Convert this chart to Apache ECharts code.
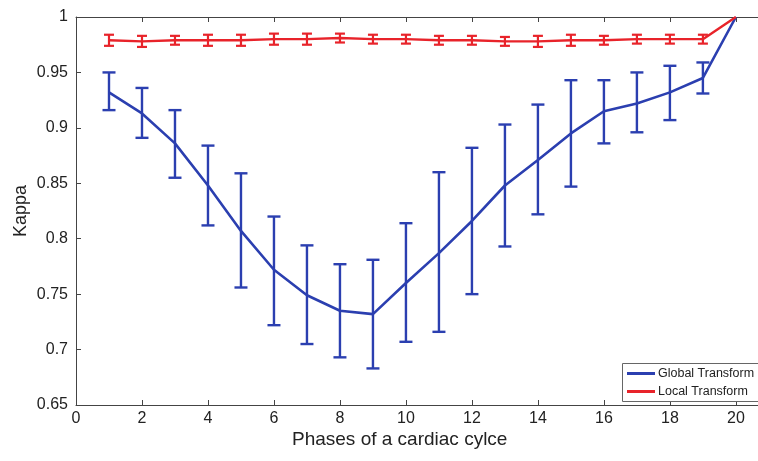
<!DOCTYPE html>
<html>
<head>
<meta charset="utf-8">
<script src="https://cdn.jsdelivr.net/npm/echarts@6/dist/echarts.min.js"></script>
<style>
  html, body { margin: 0; padding: 0; background: #fff; }
  #chart { width: 758px; height: 461px; }
</style>
</head>
<body>
<div id="chart"></div>
<script>
// phases 1..20
var phases = [1, 2, 3, 4, 5, 6, 7, 8, 9, 10, 11, 12, 13, 14, 15, 16, 17, 18, 19, 20];

// Global transform: mean kappa and error bar ends
var globalMean = [0.932, 0.913, 0.886, 0.848, 0.807, 0.772, 0.749, 0.735, 0.732, 0.760,
                  0.787, 0.816, 0.848, 0.871, 0.895, 0.915, 0.922, 0.932, 0.945, 1.0];
var globalLow  = [0.916, 0.891, 0.855, 0.812, 0.756, 0.722, 0.705, 0.693, 0.683, 0.707,
                  0.716, 0.750, 0.793, 0.822, 0.847, 0.886, 0.896, 0.907, 0.931, null];
var globalHigh = [0.950, 0.936, 0.916, 0.884, 0.859, 0.820, 0.794, 0.777, 0.781, 0.814,
                  0.860, 0.882, 0.903, 0.921, 0.943, 0.943, 0.950, 0.956, 0.959, null];

// Local transform
var localMean = [0.979, 0.978, 0.979, 0.979, 0.979, 0.980, 0.980, 0.981, 0.980, 0.980,
                 0.979, 0.979, 0.978, 0.978, 0.979, 0.979, 0.980, 0.980, 0.980, 1.0];
var localErr  = [0.005, 0.005, 0.004, 0.005, 0.005, 0.005, 0.005, 0.004, 0.004, 0.004,
                 0.004, 0.004, 0.004, 0.005, 0.005, 0.004, 0.004, 0.004, 0.004, null];

var yTicks = [0.65, 0.7, 0.75, 0.8, 0.85, 0.9, 0.95, 1];

var BLUE = '#2b3fb0';
var RED = '#e8232a';
var AXIS = '#444';
var FONT = 'Liberation Sans';

function pairs(xs, ys) {
    return xs.map(function (x, i) { return [x, ys[i]]; });
}

function barData(lows, highs) {
    var out = [];
    phases.forEach(function (x, i) {
        if (lows[i] != null) out.push([x, lows[i], highs[i]]);
    });
    return out;
}

function errorBars(color, capHalf, width) {
    return function (params, api) {
        var lo = api.coord([api.value(0), api.value(1)]);
        var hi = api.coord([api.value(0), api.value(2)]);
        var st = { stroke: color, lineWidth: width };
        return {
            type: 'group',
            children: [
                { type: 'line', shape: { x1: lo[0], y1: lo[1], x2: hi[0], y2: hi[1] }, style: st },
                { type: 'line', shape: { x1: lo[0] - capHalf, y1: lo[1], x2: lo[0] + capHalf, y2: lo[1] }, style: st },
                { type: 'line', shape: { x1: hi[0] - capHalf, y1: hi[1], x2: hi[0] + capHalf, y2: hi[1] }, style: st }
            ]
        };
    };
}

var localLow = localMean.map(function (v, i) { return localErr[i] == null ? null : v - localErr[i]; });
var localHigh = localMean.map(function (v, i) { return localErr[i] == null ? null : v + localErr[i]; });

var chart = echarts.init(document.getElementById('chart'));

// the plot box runs past the right edge of the picture (cropped figure)
var X_MAX = 20.67;

chart.setOption({
    animation: false,
    backgroundColor: '#fff',
    grid: { left: 76, top: 17, right: 0, height: 388 },
    legend: {
        left: 622, top: 364,
        orient: 'vertical',
        itemGap: 5,
        itemWidth: 28, itemHeight: 3,
        padding: [3, 0, 3, 5],
        borderWidth: 0,
        icon: 'rect',
        textStyle: { fontFamily: FONT, fontSize: 12.5, color: '#222', padding: [0, 0, 0, -2] },
        data: ['Global Transform', 'Local Transform'],
        z: 10
    },
    xAxis: [{
        type: 'value', min: 0, max: X_MAX, interval: 2,
        axisLine: { lineStyle: { color: AXIS, width: 1 } },
        axisTick: { inside: true, length: 5, lineStyle: { color: AXIS } },
        axisLabel: {
            fontFamily: FONT, fontSize: 16, color: '#222', margin: 6,
            showMaxLabel: false
        },
        splitLine: { show: false }
    }, {
        type: 'value', position: 'top', min: 0, max: X_MAX, interval: 2,
        axisLine: { lineStyle: { color: AXIS, width: 1 } },
        axisTick: { inside: true, length: 5, lineStyle: { color: AXIS } },
        axisLabel: { show: false },
        splitLine: { show: false }
    }],
    yAxis: {
        type: 'value', min: 0.65, max: 1, interval: 0.05,
        axisLine: { show: true, lineStyle: { color: AXIS, width: 1 } },
        axisTick: { show: true, inside: true, length: 5, lineStyle: { color: AXIS } },
        axisLabel: {
            fontFamily: FONT, fontSize: 16, color: '#222', margin: 8,
            formatter: function (v) {
                var t = yTicks.find(function (k) { return Math.abs(k - v) < 1e-6; });
                return t === undefined ? '' : String(t);
            }
        },
        splitLine: { show: false }
    },
    graphic: [
        {
            // legend frame, cut off by the right edge like the source figure
            type: 'rect', left: 622, top: 363, z: 5,
            shape: { x: 0, y: 0, width: 160, height: 38 },
            style: { fill: '#fff', stroke: '#666', lineWidth: 1 }
        },
        {
            type: 'text', left: 292, top: 430,
            style: { text: 'Phases of a cardiac cylce', font: '19px "Liberation Sans"', fill: '#222' }
        },
        {
            type: 'text', x: 12, y: 237, rotation: Math.PI / 2,
            style: { text: 'Kappa', font: '18px "Liberation Sans"', fill: '#222' }
        }
    ],
    series: [
        {
            name: 'Global Transform', type: 'line',
            data: pairs(phases, globalMean),
            showSymbol: false, color: BLUE,
            lineStyle: { color: BLUE, width: 2.6 }, z: 3
        },
        {
            name: 'Global Transform', type: 'custom',
            data: barData(globalLow, globalHigh),
            renderItem: errorBars(BLUE, 6.5, 2.4), z: 3
        },
        {
            name: 'Local Transform', type: 'line',
            data: pairs(phases, localMean),
            showSymbol: false, color: RED,
            lineStyle: { color: RED, width: 2.4 }, z: 4
        },
        {
            name: 'Local Transform', type: 'custom',
            data: barData(localLow, localHigh),
            renderItem: errorBars(RED, 5, 2.2), z: 4
        }
    ]
});
</script>
</body>
</html>
